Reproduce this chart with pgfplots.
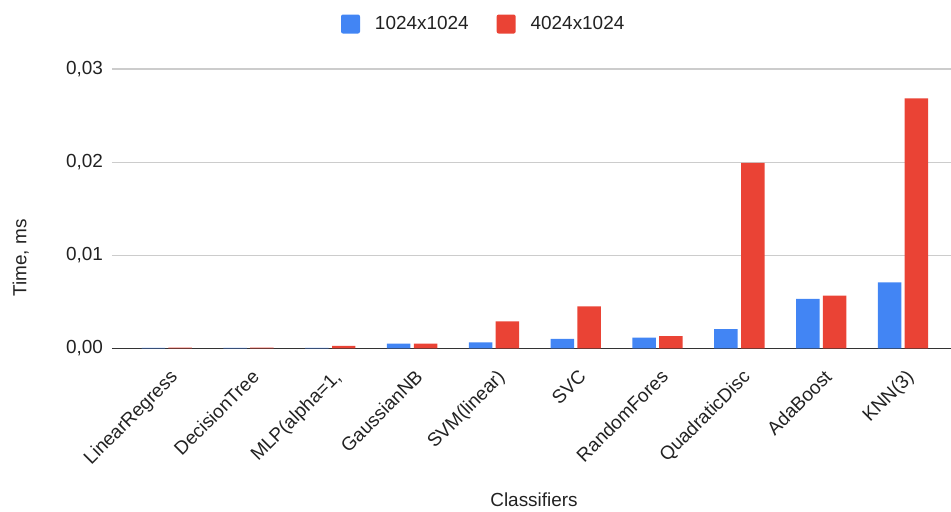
\documentclass[border=0pt]{standalone}
\usepackage{fontspec}
\setmainfont{Liberation Sans}
\usepackage{pgfplots}
\pgfplotsset{compat=1.18}

\definecolor{gblue}{HTML}{4285F4}
\definecolor{gred}{HTML}{EA4335}
\definecolor{gridgray}{HTML}{CCCCCC}
\definecolor{basegray}{HTML}{333333}
\definecolor{txt}{HTML}{222222}

\begin{document}
\begin{tikzpicture}
\path[use as bounding box] (-112bp,-163.7bp) rectangle (839bp,348.3bp);
\begin{axis}[
    at={(0,0)}, anchor=south west,
    scale only axis,
    width=839bp, height=279.3bp,
    xmin=-0.669, xmax=9.587,
    ymin=0, ymax=0.03,
    xtick={0,...,9},
    xticklabels={LinearRegress, DecisionTree, {MLP(alpha=1,}, GaussianNB, SVM(linear), SVC, RandomFores, QuadraticDisc, AdaBoost, KNN(3)},
    ytick={0,0.01,0.02,0.03},
    scaled y ticks=false,
    /pgf/number format/fixed,
    /pgf/number format/fixed zerofill,
    /pgf/number format/precision=2,
    /pgf/number format/use comma,
    /pgf/number format/assume math mode=true,
    yticklabel style={xshift=-5.5bp},
    xticklabel style={xshift=2bp, yshift=-20bp, rotate=45, anchor=north east, inner sep=0pt},
    tick label style={font=\fontsize{19}{22}\selectfont, color=txt},
    major tick length=0pt,
    axis line style={draw=none},
    ymajorgrids=true,
    major grid style={color=gridgray, line width=1.1bp},
    extra y ticks={0},
    extra y tick labels={},
    extra y tick style={major grid style={color=basegray, line width=1.3bp}},
    xlabel={Classifiers},
    ylabel={Time, ms},
    every axis x label/.style={at={(axis description cs:0.503,-0.543)}, anchor=center},
    every axis y label/.style={at={(axis description cs:-0.1088,0.3233)}, anchor=center, rotate=90},
    label style={font=\fontsize{19}{22}\selectfont, color=txt},
    legend columns=-1,
    legend style={at={(axis description cs:0.443,1.161)}, anchor=center, draw=none, fill=none,
        font=\fontsize{19}{22}\selectfont, text=txt,
        /tikz/every odd column/.append style={column sep=13bp},
        /tikz/every even column/.append style={column sep=26bp}},
]

\addplot[ybar, bar width=0.287, bar shift=-0.164, fill=gblue, draw=none,
    legend image code/.code={\fill[gblue, rounded corners=2bp] (0bp,-9.5bp) rectangle (19bp,9.5bp);}]
coordinates {
    (0, 0.00005)
    (1, 0.00005)
    (2, 0.00005)
    (3, 0.00050)
    (4, 0.00065)
    (5, 0.00100)
    (6, 0.00115)
    (7, 0.00205)
    (8, 0.00530)
    (9, 0.00709)
};
\addlegendentry{1024x1024}

\addplot[ybar, bar width=0.287, bar shift=0.164, fill=gred, draw=none,
    legend image code/.code={\fill[gred, rounded corners=2bp] (0bp,-9.5bp) rectangle (19bp,9.5bp);}]
coordinates {
    (0, 0.00006)
    (1, 0.00006)
    (2, 0.00027)
    (3, 0.00050)
    (4, 0.00290)
    (5, 0.00450)
    (6, 0.00130)
    (7, 0.01993)
    (8, 0.00565)
    (9, 0.02685)
};
\addlegendentry{4024x1024}

\end{axis}
\end{tikzpicture}
\end{document}
